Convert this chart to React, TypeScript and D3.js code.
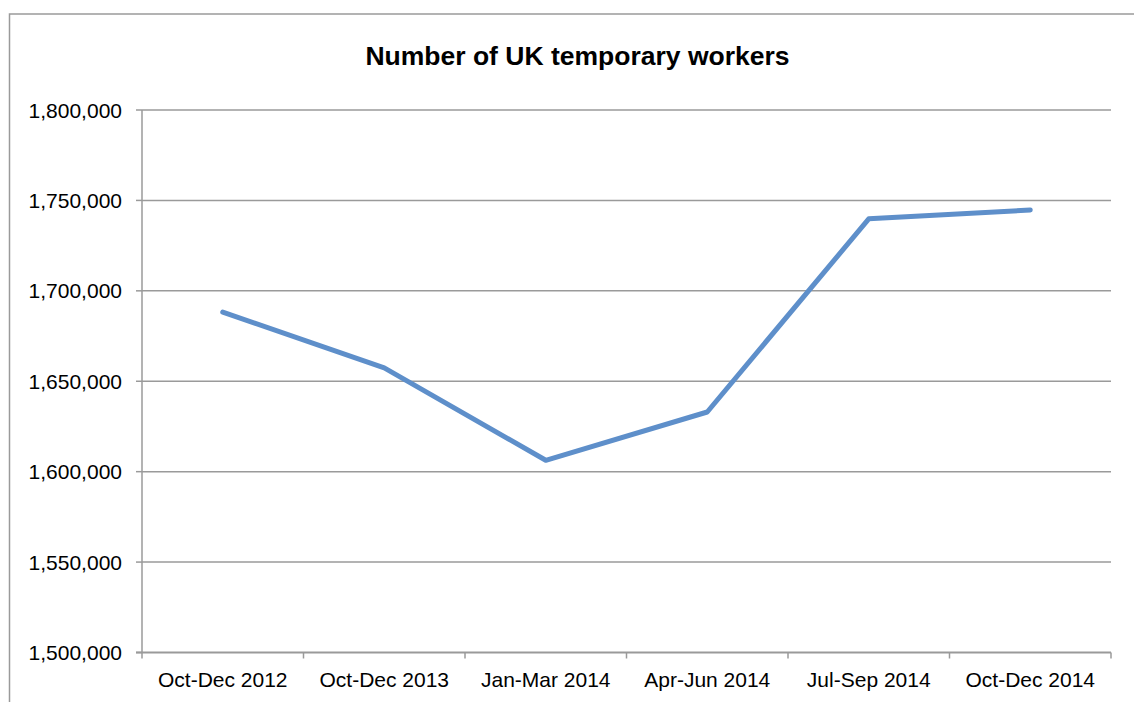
import React from "react";
import * as d3 from "d3";

const categories = ["Oct-Dec 2012", "Oct-Dec 2013", "Jan-Mar 2014", "Apr-Jun 2014", "Jul-Sep 2014", "Oct-Dec 2014"];
const workers = [1688200, 1657400, 1606300, 1633000, 1739800, 1744700];
const yTicks = [1500000, 1550000, 1600000, 1650000, 1700000, 1750000, 1800000];
const title = "Number of UK temporary workers";

const W = 1134;
const H = 702;
const left = 142;
const right = 1111;
const top = 110;
const bottom = 652.5;

export default function App() {
  const x = d3.scaleBand<string>().domain(categories).range([left, right]);
  const y = d3.scaleLinear().domain([1500000, 1800000]).range([bottom, top]);
  const fmt = d3.format(",");
  const line = d3
    .line<number>()
    .x((_, i) => (x(categories[i]) as number) + x.bandwidth() / 2)
    .y((d) => y(d));
  const boundaries = categories.map((c) => x(c) as number).concat([right]);
  const font = "'Liberation Sans', Arial, sans-serif";
  const grey = "#9a9a9a";

  return (
    <svg
      width={W}
      height={H}
      style={{ position: "absolute", left: 0, top: 0, background: "#fff" }}
    >
      <rect x={9.5} y={14} width={1200} height={800} fill="#fff" stroke={grey} strokeWidth={1.5} />
      <text
        x={577.5}
        y={65}
        textAnchor="middle"
        fontFamily={font}
        fontWeight="bold"
        fontSize={26.5}
        fill="#000"
      >
        {title}
      </text>
      {yTicks.map((t) => (
        <g key={t}>
          {t > 1500000 && (
            <line x1={left} x2={right} y1={y(t)} y2={y(t)} stroke={grey} strokeWidth={1.5} />
          )}
          <line x1={136} x2={left} y1={y(t)} y2={y(t)} stroke={grey} strokeWidth={1.5} />
          <text
            x={122}
            y={y(t)}
            dy="0.36em"
            textAnchor="end"
            fontFamily={font}
            fontSize={21}
            fill="#000"
          >
            {fmt(t)}
          </text>
        </g>
      ))}
      <line x1={left} x2={left} y1={top} y2={bottom} stroke={grey} strokeWidth={1.5} />
      <line x1={136} x2={right} y1={bottom} y2={bottom} stroke={grey} strokeWidth={2} />
      {boundaries.map((b, i) => (
        <line key={i} x1={b} x2={b} y1={bottom} y2={bottom + 6} stroke={grey} strokeWidth={1.5} />
      ))}
      {categories.map((c) => (
        <text
          key={c}
          x={(x(c) as number) + x.bandwidth() / 2}
          y={687}
          textAnchor="middle"
          fontFamily={font}
          fontSize={21}
          fill="#000"
        >
          {c}
        </text>
      ))}
      <path
        d={line(workers) || ""}
        fill="none"
        stroke="#5E8FCA"
        strokeWidth={5}
        strokeLinecap="round"
        strokeLinejoin="round"
      />
    </svg>
  );
}
